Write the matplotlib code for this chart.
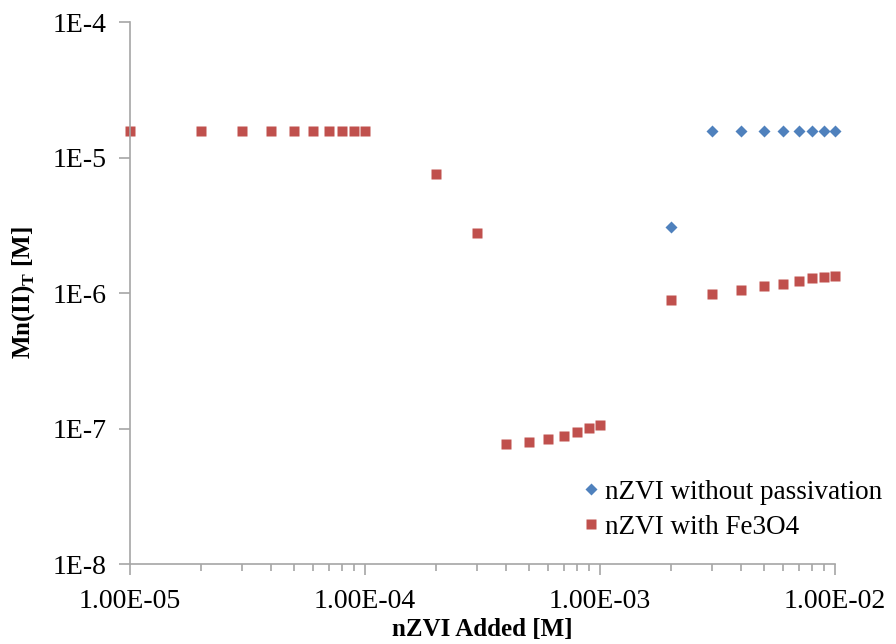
import matplotlib
matplotlib.use('Agg')
import matplotlib.pyplot as plt
from matplotlib.ticker import LogLocator, NullFormatter, FixedLocator

plt.rcParams['font.family'] = ['Liberation Serif', 'DejaVu Serif']
plt.rcParams['mathtext.fontset'] = 'custom'
plt.rcParams['mathtext.bf'] = 'Liberation Serif:bold'

# nZVI without passivation
blue_x = [2e-3, 3e-3, 4e-3, 5e-3, 6e-3, 7e-3, 8e-3, 9e-3, 1e-2]
blue_y = [3.07e-6, 1.57e-5, 1.57e-5, 1.57e-5, 1.57e-5, 1.57e-5, 1.57e-5, 1.57e-5, 1.57e-5]

# nZVI with Fe3O4
red_x = [1e-5, 2e-5, 3e-5, 4e-5, 5e-5, 6e-5, 7e-5, 8e-5, 9e-5, 1e-4,
         2e-4, 3e-4, 4e-4, 5e-4, 6e-4, 7e-4, 8e-4, 9e-4, 1e-3,
         2e-3, 3e-3, 4e-3, 5e-3, 6e-3, 7e-3, 8e-3, 9e-3, 1e-2]
red_y = [1.57e-5] * 10 + [7.55e-6, 2.77e-6,
         7.7e-8, 7.95e-8, 8.4e-8, 8.8e-8, 9.4e-8, 1.01e-7, 1.06e-7,
         8.9e-7, 9.8e-7, 1.05e-6, 1.13e-6, 1.16e-6, 1.23e-6, 1.29e-6, 1.31e-6, 1.33e-6]

xticks = [1e-5, 1e-4, 1e-3, 1e-2]
xlabels = ['1.00E-05', '1.00E-04', '1.00E-03', '1.00E-02']
yticks = [1e-8, 1e-7, 1e-6, 1e-5, 1e-4]
ylabels = ['1E-8', '1E-7', '1E-6', '1E-5', '1E-4']

fig = plt.figure(figsize=(8.96, 6.44), dpi=100)
ax = fig.add_axes([0.1451, 0.1242, 0.7868, 0.8416])

ax.plot(blue_x, blue_y, 'D', color='#4F81BD', ms=6.5, mec='none', clip_on=False,
        label='nZVI without passivation')
ax.plot(red_x, red_y, 's', color='#C0504D', ms=7.5, mec='none', clip_on=False,
        label='nZVI with Fe3O4')

ax.set_xscale('log')
ax.set_yscale('log')
ax.set_xlim(1e-5, 1e-2)
ax.set_ylim(1e-8, 1e-4)

ax.xaxis.set_major_locator(FixedLocator(xticks))
ax.set_xticklabels(xlabels)
ax.xaxis.set_minor_locator(LogLocator(base=10, subs=range(2, 10)))
ax.xaxis.set_minor_formatter(NullFormatter())
ax.yaxis.set_major_locator(FixedLocator(yticks))
ax.set_yticklabels(ylabels)
ax.yaxis.set_minor_locator(FixedLocator([]))

for s in ['top', 'right']:
    ax.spines[s].set_visible(False)
for s in ['left', 'bottom']:
    ax.spines[s].set_color('#A6A6A6')
    ax.spines[s].set_linewidth(1.2)

ax.tick_params(which='major', direction='out', length=8, width=1.2, color='#A6A6A6',
               labelsize=20)
ax.tick_params(axis='x', which='major', pad=10)
ax.tick_params(axis='y', which='major', pad=9)
ax.tick_params(which='minor', direction='out', length=5, width=1.2, color='#A6A6A6')

ax.set_xlabel('nZVI Added [M]', fontsize=18, fontweight='bold', labelpad=3)
ax.set_ylabel(r'Mn(II)$_\mathbf{T}$ [M]', fontsize=18, fontweight='bold', labelpad=11)

leg = ax.legend(loc='lower left', bbox_to_anchor=(0.608, 0.0), frameon=False,
                fontsize=19.5, handlelength=0.6, handletextpad=0.2, labelspacing=0.37,
                markerscale=0.9)

fig.savefig('out.png', dpi=100)
